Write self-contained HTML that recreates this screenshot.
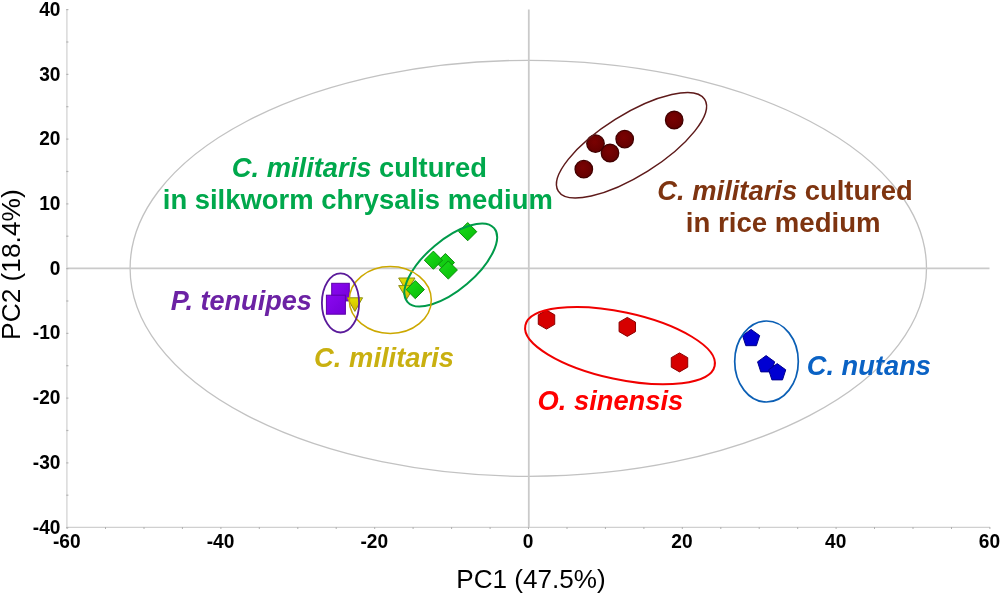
<!DOCTYPE html><html><head><meta charset="utf-8"><style>html,body{margin:0;padding:0;background:#fff;width:1000px;height:595px;overflow:hidden}svg{display:block}text{font-family:"Liberation Sans",sans-serif}</style></head><body>
<div style="will-change:transform;width:1000px;height:595px">
<svg width="1000" height="595" viewBox="0 0 1000 595">
<defs>
<radialGradient id="gc" cx="45%" cy="40%" r="60%"><stop offset="0" stop-color="#7a0202"/><stop offset="1" stop-color="#640000"/></radialGradient>
<linearGradient id="gt" x1="0" y1="0" x2="0" y2="1"><stop offset="0" stop-color="#e2e200"/><stop offset="1" stop-color="#d2b400"/></linearGradient>
<linearGradient id="gd" x1="0" y1="0" x2="1" y2="1"><stop offset="0" stop-color="#1cdc1c"/><stop offset="1" stop-color="#06bc06"/></linearGradient>
<linearGradient id="gs" x1="0" y1="0" x2="1" y2="1"><stop offset="0" stop-color="#8a08f0"/><stop offset="1" stop-color="#7400d8"/></linearGradient>
</defs>
<rect width="1000" height="595" fill="#fff"/>
<ellipse cx="528.3" cy="268.3" rx="398.2" ry="208" fill="none" stroke="#c2c2c2" stroke-width="1.3"/>
<line x1="67" y1="268.3" x2="989.5" y2="268.3" stroke="#cacaca" stroke-width="1.8"/>
<line x1="528.8" y1="9.6" x2="528.8" y2="527.3" stroke="#cacaca" stroke-width="1.8"/>
<line x1="66.9" y1="9" x2="66.9" y2="527.8" stroke="#d0d0d0" stroke-width="1.2"/>
<line x1="66.5" y1="527.3" x2="990" y2="527.3" stroke="#d0d0d0" stroke-width="1.2"/>
<line x1="67.1" y1="527" x2="67.1" y2="529" stroke="#b0b0b0" stroke-width="1"/>
<line x1="105.5" y1="527" x2="105.5" y2="529" stroke="#b0b0b0" stroke-width="1"/>
<line x1="144.0" y1="527" x2="144.0" y2="529" stroke="#b0b0b0" stroke-width="1"/>
<line x1="182.4" y1="527" x2="182.4" y2="529" stroke="#b0b0b0" stroke-width="1"/>
<line x1="220.9" y1="527" x2="220.9" y2="529" stroke="#b0b0b0" stroke-width="1"/>
<line x1="259.3" y1="527" x2="259.3" y2="529" stroke="#b0b0b0" stroke-width="1"/>
<line x1="297.8" y1="527" x2="297.8" y2="529" stroke="#b0b0b0" stroke-width="1"/>
<line x1="336.2" y1="527" x2="336.2" y2="529" stroke="#b0b0b0" stroke-width="1"/>
<line x1="374.7" y1="527" x2="374.7" y2="529" stroke="#b0b0b0" stroke-width="1"/>
<line x1="413.1" y1="527" x2="413.1" y2="529" stroke="#b0b0b0" stroke-width="1"/>
<line x1="451.6" y1="527" x2="451.6" y2="529" stroke="#b0b0b0" stroke-width="1"/>
<line x1="490.1" y1="527" x2="490.1" y2="529" stroke="#b0b0b0" stroke-width="1"/>
<line x1="528.5" y1="527" x2="528.5" y2="529" stroke="#b0b0b0" stroke-width="1"/>
<line x1="567.0" y1="527" x2="567.0" y2="529" stroke="#b0b0b0" stroke-width="1"/>
<line x1="605.4" y1="527" x2="605.4" y2="529" stroke="#b0b0b0" stroke-width="1"/>
<line x1="643.9" y1="527" x2="643.9" y2="529" stroke="#b0b0b0" stroke-width="1"/>
<line x1="682.3" y1="527" x2="682.3" y2="529" stroke="#b0b0b0" stroke-width="1"/>
<line x1="720.8" y1="527" x2="720.8" y2="529" stroke="#b0b0b0" stroke-width="1"/>
<line x1="759.2" y1="527" x2="759.2" y2="529" stroke="#b0b0b0" stroke-width="1"/>
<line x1="797.7" y1="527" x2="797.7" y2="529" stroke="#b0b0b0" stroke-width="1"/>
<line x1="836.1" y1="527" x2="836.1" y2="529" stroke="#b0b0b0" stroke-width="1"/>
<line x1="874.5" y1="527" x2="874.5" y2="529" stroke="#b0b0b0" stroke-width="1"/>
<line x1="913.0" y1="527" x2="913.0" y2="529" stroke="#b0b0b0" stroke-width="1"/>
<line x1="951.5" y1="527" x2="951.5" y2="529" stroke="#b0b0b0" stroke-width="1"/>
<line x1="989.9" y1="527" x2="989.9" y2="529" stroke="#b0b0b0" stroke-width="1"/>
<line x1="66.2" y1="9.6" x2="68.4" y2="9.6" stroke="#b4b4b4" stroke-width="1.2"/>
<line x1="66.2" y1="42.0" x2="68.4" y2="42.0" stroke="#b4b4b4" stroke-width="1.2"/>
<line x1="66.2" y1="74.4" x2="68.4" y2="74.4" stroke="#b4b4b4" stroke-width="1.2"/>
<line x1="66.2" y1="106.7" x2="68.4" y2="106.7" stroke="#b4b4b4" stroke-width="1.2"/>
<line x1="66.2" y1="139.1" x2="68.4" y2="139.1" stroke="#b4b4b4" stroke-width="1.2"/>
<line x1="66.2" y1="171.5" x2="68.4" y2="171.5" stroke="#b4b4b4" stroke-width="1.2"/>
<line x1="66.2" y1="203.9" x2="68.4" y2="203.9" stroke="#b4b4b4" stroke-width="1.2"/>
<line x1="66.2" y1="236.2" x2="68.4" y2="236.2" stroke="#b4b4b4" stroke-width="1.2"/>
<line x1="66.2" y1="268.6" x2="68.4" y2="268.6" stroke="#b4b4b4" stroke-width="1.2"/>
<line x1="66.2" y1="301.0" x2="68.4" y2="301.0" stroke="#b4b4b4" stroke-width="1.2"/>
<line x1="66.2" y1="333.4" x2="68.4" y2="333.4" stroke="#b4b4b4" stroke-width="1.2"/>
<line x1="66.2" y1="365.7" x2="68.4" y2="365.7" stroke="#b4b4b4" stroke-width="1.2"/>
<line x1="66.2" y1="398.1" x2="68.4" y2="398.1" stroke="#b4b4b4" stroke-width="1.2"/>
<line x1="66.2" y1="430.5" x2="68.4" y2="430.5" stroke="#b4b4b4" stroke-width="1.2"/>
<line x1="66.2" y1="462.9" x2="68.4" y2="462.9" stroke="#b4b4b4" stroke-width="1.2"/>
<line x1="66.2" y1="495.2" x2="68.4" y2="495.2" stroke="#b4b4b4" stroke-width="1.2"/>
<line x1="66.2" y1="527.6" x2="68.4" y2="527.6" stroke="#b4b4b4" stroke-width="1.2"/>
<g font-weight="bold" font-size="20.8" fill="#000">
<text transform="translate(60.5,15.7) scale(0.92,1)" text-anchor="end">40</text>
<text transform="translate(60.5,80.5) scale(0.92,1)" text-anchor="end">30</text>
<text transform="translate(60.5,145.2) scale(0.92,1)" text-anchor="end">20</text>
<text transform="translate(60.5,210.0) scale(0.92,1)" text-anchor="end">10</text>
<text transform="translate(60.5,274.7) scale(0.92,1)" text-anchor="end">0</text>
<text transform="translate(60.5,339.4) scale(0.92,1)" text-anchor="end">-10</text>
<text transform="translate(60.5,404.2) scale(0.92,1)" text-anchor="end">-20</text>
<text transform="translate(60.5,468.9) scale(0.92,1)" text-anchor="end">-30</text>
<text transform="translate(60.5,533.7) scale(0.92,1)" text-anchor="end">-40</text>
<text transform="translate(66.7,548.3) scale(0.92,1)" text-anchor="middle">-60</text>
<text transform="translate(220.5,548.3) scale(0.92,1)" text-anchor="middle">-40</text>
<text transform="translate(374.3,548.3) scale(0.92,1)" text-anchor="middle">-20</text>
<text transform="translate(528.1,548.3) scale(0.92,1)" text-anchor="middle">0</text>
<text transform="translate(681.9,548.3) scale(0.92,1)" text-anchor="middle">20</text>
<text transform="translate(835.7,548.3) scale(0.92,1)" text-anchor="middle">40</text>
<text transform="translate(989.5,548.3) scale(0.92,1)" text-anchor="middle">60</text>
</g>
<text transform="translate(456.29,588.2) scale(1.0034,1)" font-size="26" font-weight="normal" fill="#000">PC1 (47.5%)</text>
<text transform="translate(19.6,339.92) rotate(-90) scale(1.0124,1)" font-size="26" fill="#000">PC2 (18.4%)</text>
<circle cx="674.2" cy="120" r="8.75" fill="url(#gc)" stroke="#420000" stroke-width="1.3"/>
<circle cx="624.7" cy="139.1" r="8.75" fill="url(#gc)" stroke="#420000" stroke-width="1.3"/>
<circle cx="595.5" cy="143.6" r="8.75" fill="url(#gc)" stroke="#420000" stroke-width="1.3"/>
<circle cx="610" cy="153" r="8.75" fill="url(#gc)" stroke="#420000" stroke-width="1.3"/>
<circle cx="583.8" cy="169.2" r="8.75" fill="url(#gc)" stroke="#420000" stroke-width="1.3"/>
<rect x="331.7" y="283.3" width="17.6" height="17.6" fill="url(#gs)" stroke="#5c00a8" stroke-width="1"/>
<rect x="326.4" y="295.2" width="19" height="19" fill="url(#gs)" stroke="#5c00a8" stroke-width="1"/>
<polygon points="398.65000000000003,278.0 414.95,278.0 406.8,291.3" fill="url(#gt)" stroke="#8c8c14" stroke-width="1"/>
<polygon points="398.65000000000003,285.6 414.95,285.6 406.8,298.90000000000003" fill="url(#gt)" stroke="#8c8c14" stroke-width="1"/>
<polygon points="347.2,297.8 362.59999999999997,297.8 354.9,311.40000000000003" fill="url(#gt)" stroke="#8c8c14" stroke-width="1"/>
<polygon points="445.4,253.50000000000003 454.5,262.6 445.4,271.70000000000005 436.29999999999995,262.6" fill="url(#gd)" stroke="#0a8c0a" stroke-width="1"/>
<polygon points="467.7,222.55 476.8,231.65 467.7,240.75 458.59999999999997,231.65" fill="url(#gd)" stroke="#0a8c0a" stroke-width="1"/>
<polygon points="433.4,251.1 442.5,260.2 433.4,269.3 424.29999999999995,260.2" fill="url(#gd)" stroke="#0a8c0a" stroke-width="1"/>
<polygon points="448.3,260.9 457.40000000000003,270 448.3,279.1 439.2,270" fill="url(#gd)" stroke="#0a8c0a" stroke-width="1"/>
<polygon points="415.3,280.5 424.40000000000003,289.6 415.3,298.70000000000005 406.2,289.6" fill="url(#gd)" stroke="#0a8c0a" stroke-width="1"/>
<polygon points="546.50,310.10 554.73,314.85 554.73,324.35 546.50,329.10 538.27,324.35 538.27,314.85" fill="#d60000" stroke="#8c0000" stroke-width="1"/>
<polygon points="627.30,317.40 635.53,322.15 635.53,331.65 627.30,336.40 619.07,331.65 619.07,322.15" fill="#d60000" stroke="#8c0000" stroke-width="1"/>
<polygon points="679.50,352.90 687.73,357.65 687.73,367.15 679.50,371.90 671.27,367.15 671.27,357.65" fill="#d60000" stroke="#8c0000" stroke-width="1"/>
<polygon points="751.10,329.40 759.66,335.62 756.39,345.68 745.81,345.68 742.54,335.62" fill="#0000d2" stroke="#00008c" stroke-width="1"/>
<polygon points="766.10,355.60 774.66,361.82 771.39,371.88 760.81,371.88 757.54,361.82" fill="#0000d2" stroke="#00008c" stroke-width="1"/>
<polygon points="777.20,363.60 785.76,369.82 782.49,379.88 771.91,379.88 768.64,369.82" fill="#0000d2" stroke="#00008c" stroke-width="1"/>
<ellipse cx="631.5" cy="145.25" rx="86.4" ry="30.6" transform="rotate(-32.1 631.5 145.25)" fill="none" stroke="#5e1a1a" stroke-width="1.5"/>
<ellipse cx="450.75" cy="265" rx="56.9" ry="25.0" transform="rotate(-40.3 450.75 265)" fill="none" stroke="#009a4a" stroke-width="2"/>
<ellipse cx="390.3" cy="300" rx="41" ry="33.5" fill="none" stroke="#cca800" stroke-width="1.55"/>
<ellipse cx="340.5" cy="302.9" rx="18.6" ry="29.6" fill="none" stroke="#5a1a9a" stroke-width="1.8"/>
<ellipse cx="620" cy="345.65" rx="96.8" ry="33.6" transform="rotate(12.1 620 345.65)" fill="none" stroke="#f00000" stroke-width="2"/>
<ellipse cx="766.5" cy="361.5" rx="31.8" ry="40.5" fill="none" stroke="#0b5fb5" stroke-width="1.7"/>
<text transform="translate(231.79,176.7) scale(1.0120,1)" font-size="27" font-weight="bold" fill="#00a84c"><tspan font-style="italic">C. militaris</tspan> cultured</text>
<text transform="translate(162.77,208.8) scale(1.0155,1)" font-size="27" font-weight="bold" fill="#00a84c">in silkworm chrysalis medium</text>
<text transform="translate(657.19,200.3) scale(1.0145,1)" font-size="27" font-weight="bold" fill="#7e3410"><tspan font-style="italic">C. militaris</tspan> cultured</text>
<text transform="translate(685.86,232.4) scale(1.0225,1)" font-size="27" font-weight="bold" fill="#7e3410">in rice medium</text>
<text transform="translate(170.80,310) scale(1.0043,1)" font-size="27" font-weight="bold" fill="#6c22a4"><tspan font-style="italic">P. tenuipes</tspan></text>
<text transform="translate(314.09,366.6) scale(1.0140,1)" font-size="27" font-weight="bold" fill="#c9b010"><tspan font-style="italic">C. militaris</tspan></text>
<text transform="translate(537.49,409.6) scale(1.0127,1)" font-size="27" font-weight="bold" fill="#ff0000"><tspan font-style="italic">O. sinensis</tspan></text>
<text transform="translate(806.79,374.9) scale(1.0099,1)" font-size="27" font-weight="bold" fill="#0a62c4"><tspan font-style="italic">C. nutans</tspan></text>
</svg></div></body></html>
